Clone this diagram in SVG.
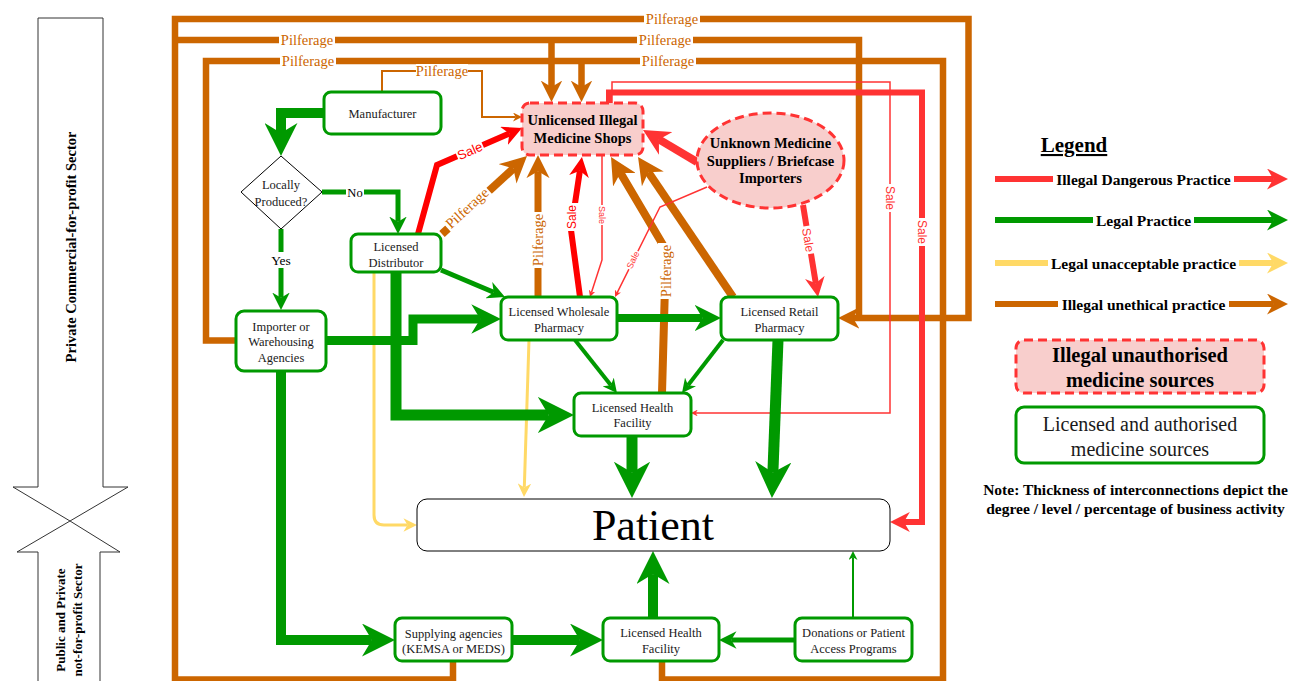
<svg xmlns="http://www.w3.org/2000/svg" width="1291" height="681" viewBox="0 0 1291 681">
<style>
.serif{font-family:"Liberation Serif","Times New Roman",serif;}
.sans{font-family:"Liberation Sans",Arial,sans-serif;}
.node{fill:#fff;stroke:#009900;stroke-width:3;}
.ill{fill:#f8cecc;stroke:#ff3333;stroke-width:3;stroke-dasharray:9 5;}
.g{fill:none;stroke:#009900;}
.o{fill:none;stroke:#cc6600;}
.r{fill:none;stroke:#ff0000;}
.r2{fill:none;stroke:#ff3333;}
.y{fill:none;stroke:#ffd966;}
.bg{fill:#fff;}
.nt{font-size:12.5px;fill:#1a1a1a;text-anchor:middle;}
.bt{font-size:14.5px;font-weight:bold;fill:#000;text-anchor:middle;}
.pil{font-size:14.5px;fill:#cc6600;text-anchor:middle;dominant-baseline:central;}
.sale{fill:#ff3333;text-anchor:middle;dominant-baseline:central;}
.lg{font-size:15.5px;font-weight:bold;fill:#000;text-anchor:middle;}
</style>
<defs>
<marker id="gL" viewBox="0 0 10 10" refX="3" refY="5" markerWidth="3.3" markerHeight="3.3" orient="auto"><path d="M0,0 L10,5 L0,10 L3,5 z" fill="#009900"/></marker>
<marker id="gM" viewBox="0 0 10 10" refX="3" refY="5" markerWidth="3.5" markerHeight="3.5" orient="auto"><path d="M0,0 L10,5 L0,10 L3,5 z" fill="#009900"/></marker>
<marker id="gS" viewBox="0 0 10 10" refX="3" refY="5" markerWidth="4.5" markerHeight="4.5" orient="auto"><path d="M0,0 L10,5 L0,10 L3,5 z" fill="#009900"/></marker>
<marker id="oL" viewBox="0 0 10 10" refX="3" refY="5" markerWidth="3.3" markerHeight="3.3" orient="auto"><path d="M0,0 L10,5 L0,10 L3,5 z" fill="#cc6600"/></marker>
<marker id="oM" viewBox="0 0 10 10" refX="3" refY="5" markerWidth="3.5" markerHeight="3.5" orient="auto"><path d="M0,0 L10,5 L0,10 L3,5 z" fill="#cc6600"/></marker>
<marker id="oS" viewBox="0 0 10 10" refX="3" refY="5" markerWidth="4.5" markerHeight="4.5" orient="auto"><path d="M0,0 L10,5 L0,10 L3,5 z" fill="#cc6600"/></marker>
<marker id="rL" viewBox="0 0 10 10" refX="3" refY="5" markerWidth="3.3" markerHeight="3.3" orient="auto"><path d="M0,0 L10,5 L0,10 L3,5 z" fill="#ff0000"/></marker>
<marker id="r2L" viewBox="0 0 10 10" refX="3" refY="5" markerWidth="3.3" markerHeight="3.3" orient="auto"><path d="M0,0 L10,5 L0,10 L3,5 z" fill="#ff3333"/></marker>
<marker id="r2M" viewBox="0 0 10 10" refX="3" refY="5" markerWidth="3.5" markerHeight="3.5" orient="auto"><path d="M0,0 L10,5 L0,10 L3,5 z" fill="#ff3333"/></marker>
<marker id="r2S" viewBox="0 0 10 10" refX="3" refY="5" markerWidth="4.5" markerHeight="4.5" orient="auto"><path d="M0,0 L10,5 L0,10 L3,5 z" fill="#ff3333"/></marker>
<marker id="yS" viewBox="0 0 10 10" refX="3" refY="5" markerWidth="4.5" markerHeight="4.5" orient="auto"><path d="M0,0 L10,5 L0,10 L3,5 z" fill="#ffd966"/></marker>
<marker id="yM" viewBox="0 0 10 10" refX="3" refY="5" markerWidth="3.5" markerHeight="3.5" orient="auto"><path d="M0,0 L10,5 L0,10 L3,5 z" fill="#ffd966"/></marker>
</defs>
<rect width="1291" height="681" fill="#fff"/>

<g id="sector-private">
<path d="M38,18 H103 V487 H128 L70,521 L13,487 H38 Z" fill="#fff" stroke="#333" stroke-width="1"/>
<text class="serif" transform="translate(76,247) rotate(-90)" font-size="14.5" font-weight="bold" text-anchor="middle">Private Commercial-for-profit Sector</text>
</g>
<g id="sector-public">
<path d="M38,690 V552 H17 L70,521 L120,552 H100 V690" fill="#fff" stroke="#333" stroke-width="1"/>
<text class="serif" transform="translate(65,620) rotate(-90)" font-size="13" font-weight="bold" text-anchor="middle">Public and Private</text>
<text class="serif" transform="translate(82,620) rotate(-90)" font-size="13" font-weight="bold" text-anchor="middle">not-for-profit Sector</text>
</g>

<g id="connectors">
<!-- orange pilferage loops -->
<path class="o" stroke-width="6.5" d="M453,661 V679.5 H175 V19 H968.5 V318 H853" marker-end="url(#oL)"/>
<path class="o" stroke-width="6.5" d="M175,40 H859 V318"/>
<path class="o" stroke-width="6.5" d="M236,340.5 H206 V61 H943 V679.5 H662 V661"/>
<path class="o" stroke-width="6.5" d="M551.5,40 V87" marker-end="url(#oL)"/>
<path class="o" stroke-width="6.5" d="M581.5,61 V87" marker-end="url(#oL)"/>
<path class="o" stroke-width="8" d="M442,234 L513.4,168.5" marker-end="url(#oL)"/>
<path class="o" stroke-width="7" d="M538,297 V171.2" marker-end="url(#oL)"/>
<path class="o" stroke-width="8" d="M662,393 L666,250 L620.4,172.9" marker-end="url(#oL)"/>
<path class="o" stroke-width="8" d="M733,297 L648.4,172.3" marker-end="url(#oL)"/>
<path class="o" stroke-width="2" d="M382,92 V71 H482 V117 H515.7" marker-end="url(#oS)"/>
<!-- red -->
<path class="r" stroke-width="6" d="M418,234 L437,165 L509.3,133.5" marker-end="url(#rL)"/>
<path class="r" stroke-width="6" d="M580,297 L571,230 L579.9,170.7" marker-end="url(#rL)"/>
<path class="r2" stroke-width="1.5" d="M602,155 V260 L591.45,292.5" marker-end="url(#r2S)"/>
<path class="r2" stroke-width="1.5" d="M707,187 L660,207 L617.1,292.8" marker-end="url(#r2S)"/>
<path class="r2" stroke-width="8" d="M697,162 L658.9,139.4" marker-end="url(#r2L)"/>
<path class="r2" stroke-width="6" d="M803,205 L815.8,283.3" marker-end="url(#r2L)"/>
<path class="r2" stroke-width="6" d="M609,103 V92.5 H922 V522 H903.9" marker-end="url(#r2L)"/>
<path class="r2" stroke-width="1.5" d="M612,103 V82 H890 V413 H695.7" marker-end="url(#r2S)"/>
<!-- yellow -->
<path class="y" stroke-width="3" d="M374,272 V515 Q374,525 384,525 H407.5" marker-end="url(#yS)"/>
<path class="y" stroke-width="3" d="M529,340 L524.3,487.5" marker-end="url(#yS)"/>
<!-- green -->
<path class="g" stroke-width="10" d="M324,113 H281 V132.9" marker-end="url(#gL)"/>
<path class="g" stroke-width="5" d="M322,192 H398 V221.75" marker-end="url(#gM)"/>
<path class="g" stroke-width="5" d="M281,229 V297.75" marker-end="url(#gM)"/>
<path class="g" stroke-width="5" d="M441,270 L493.7,292.2" marker-end="url(#gM)"/>
<path class="g" stroke-width="9" d="M326,340.5 H413 V319 H480.2" marker-end="url(#gL)"/>
<path class="g" stroke-width="11" d="M396,272 V415 H548.6" marker-end="url(#gL)"/>
<path class="g" stroke-width="8" d="M617,318 H702.5" marker-end="url(#gL)"/>
<path class="g" stroke-width="4" d="M575,340 L610.9,385.3" marker-end="url(#gM)"/>
<path class="g" stroke-width="4" d="M723,340 L688,385.2" marker-end="url(#gM)"/>
<path class="g" stroke-width="11" d="M632,436 V472.6" marker-end="url(#gL)"/>
<path class="g" stroke-width="11" d="M778,340 L772.9,472.6" marker-end="url(#gL)"/>
<path class="g" stroke-width="10" d="M281,371 V640 H371.9" marker-end="url(#gL)"/>
<path class="g" stroke-width="10" d="M512,640 H579.9" marker-end="url(#gL)"/>
<path class="g" stroke-width="10" d="M653,618 V574.1" marker-end="url(#gL)"/>
<path class="g" stroke-width="5" d="M795,640 H731.25" marker-end="url(#gM)"/>
<path class="g" stroke-width="2" d="M853,618 V557.3" marker-end="url(#gS)"/>

<!-- labels -->
<g class="serif">
<rect class="bg" x="346" y="185" width="18" height="14"/>
<text x="355" y="196.5" font-size="12.5" text-anchor="middle">No</text>
<rect class="bg" x="270" y="252" width="22" height="16"/>
<text x="281" y="265" font-size="13.5" text-anchor="middle">Yes</text>
<rect class="bg" x="416" y="64" width="52" height="14"/>
<text class="pil" x="442" y="71" font-size="13">Pilferage</text>
<rect class="bg" x="644" y="11" width="56" height="16"/>
<text class="pil" x="672" y="19">Pilferage</text>
<rect class="bg" x="279" y="32" width="56" height="16"/>
<text class="pil" x="307" y="40">Pilferage</text>
<rect class="bg" x="637" y="32" width="56" height="16"/>
<text class="pil" x="665" y="40">Pilferage</text>
<rect class="bg" x="280" y="53" width="56" height="16"/>
<text class="pil" x="308" y="61">Pilferage</text>
<rect class="bg" x="640" y="53" width="56" height="16"/>
<text class="pil" x="668" y="61">Pilferage</text>
<g transform="translate(467,208) rotate(-42.5)"><rect class="bg" x="-28" y="-8" width="56" height="16"/><text class="pil" x="0" y="0">Pilferage</text></g>
<g transform="translate(538,240) rotate(-90)"><rect class="bg" x="-28" y="-8" width="56" height="16"/><text class="pil" x="0" y="0">Pilferage</text></g>
<g transform="translate(666,271) rotate(-90)"><rect class="bg" x="-28" y="-8" width="56" height="16"/><text class="pil" x="0" y="0">Pilferage</text></g>
</g>
<g class="sans">
<g transform="translate(470,151) rotate(-23.5)"><rect class="bg" x="-14" y="-7" width="28" height="14"/><text class="sale" x="0" y="0" font-size="13" fill="#ff0000" style="fill:#ff0000">Sale</text></g>
<g transform="translate(572,217) rotate(-90)"><rect class="bg" x="-14" y="-7" width="28" height="14"/><text class="sale" x="0" y="0" font-size="12" style="fill:#ff0000">Sale</text></g>
<g transform="translate(602,215) rotate(90)"><rect class="bg" x="-10" y="-5" width="20" height="10"/><text class="sale" x="0" y="0" font-size="9">Sale</text></g>
<g transform="translate(633,260) rotate(-63.4)"><rect class="bg" x="-10" y="-5" width="20" height="10"/><text class="sale" x="0" y="0" font-size="9">Sale</text></g>
<g transform="translate(808,240) rotate(80.7)"><rect class="bg" x="-14" y="-7" width="28" height="14"/><text class="sale" x="0" y="0" font-size="12">Sale</text></g>
<g transform="translate(922,232) rotate(90)"><rect class="bg" x="-14" y="-7" width="28" height="14"/><text class="sale" x="0" y="0" font-size="12">Sale</text></g>
<g transform="translate(890,198) rotate(90)"><rect class="bg" x="-14" y="-7" width="28" height="14"/><text class="sale" x="0" y="0" font-size="12">Sale</text></g>
</g>
</g>

<g id="manufacturer"><rect class="node" x="324" y="92" width="117" height="42" rx="7"/><text class="serif nt" x="382.5" y="117.5">Manufacturer</text></g>
<g id="locally-produced"><path d="M281,156 L322,192 L281,229 L241,192 Z" fill="#fff" stroke="#000" stroke-width="1"/><text class="serif nt" x="281" y="188.5">Locally</text><text class="serif nt" x="281" y="205.5">Produced?</text></g>
<g id="licensed-distributor"><rect class="node" x="351" y="234" width="90" height="38" rx="7"/><text class="serif nt" x="396" y="250.5">Licensed</text><text class="serif nt" x="396" y="266.5">Distributor</text></g>
<g id="importer"><rect class="node" x="236" y="311" width="90" height="60" rx="8"/><text class="serif nt" x="281" y="330.5">Importer or</text><text class="serif nt" x="281" y="345.5">Warehousing</text><text class="serif nt" x="281" y="361.5">Agencies</text></g>
<g id="wholesale"><rect class="node" x="501" y="297" width="116" height="43" rx="7"/><text class="serif nt" x="559" y="315.5">Licensed Wholesale</text><text class="serif nt" x="559" y="331.5">Pharmacy</text></g>
<g id="retail"><rect class="node" x="721" y="297" width="117" height="43" rx="7"/><text class="serif nt" x="779.5" y="315.5">Licensed Retail</text><text class="serif nt" x="779.5" y="331.5">Pharmacy</text></g>
<g id="health-facility-private"><rect class="node" x="574" y="393" width="117" height="43" rx="7"/><text class="serif nt" x="632.5" y="411.5">Licensed Health</text><text class="serif nt" x="632.5" y="426.5">Facility</text></g>
<g id="patient"><rect x="417" y="499" width="473" height="52" rx="10" fill="#fff" stroke="#000" stroke-width="1"/><text class="serif" x="653" y="540" font-size="44" text-anchor="middle">Patient</text></g>
<g id="supplying-agencies"><rect class="node" x="395" y="618" width="117" height="43" rx="7"/><text class="serif nt" x="453.5" y="637.5">Supplying agencies</text><text class="serif nt" x="453.5" y="652.5">(KEMSA or MEDS)</text></g>
<g id="health-facility-public"><rect class="node" x="603" y="618" width="116" height="43" rx="7"/><text class="serif nt" x="661" y="636.5">Licensed Health</text><text class="serif nt" x="661" y="652.5">Facility</text></g>
<g id="donations"><rect class="node" x="795" y="618" width="117" height="43" rx="7"/><text class="serif nt" x="853.5" y="636.5">Donations or Patient</text><text class="serif nt" x="853.5" y="652.5">Access Programs</text></g>
<g id="unlicensed-shops"><rect class="ill" x="522" y="103" width="121" height="52" rx="8"/><text class="serif bt" x="582.5" y="125">Unlicensed Illegal</text><text class="serif bt" x="582.5" y="143">Medicine Shops</text></g>
<g id="unknown-suppliers"><ellipse class="ill" cx="770.5" cy="160.5" rx="73.5" ry="47.5"/><text class="serif bt" x="770.5" y="148">Unknown Medicine</text><text class="serif bt" x="770.5" y="166">Suppliers / Briefcase</text><text class="serif bt" x="770.5" y="183">Importers</text></g>

<g id="legend" class="serif">
<text x="1074" y="152" font-size="21" font-weight="bold" text-anchor="middle" text-decoration="underline">Legend</text>
<path class="r2" stroke-width="6" d="M995,179 H1273.3" marker-end="url(#r2M)"/>
<rect class="bg" x="1053" y="170" width="181" height="18"/>
<text class="lg" x="1143.5" y="184.5">Illegal Dangerous Practice</text>
<path class="g" stroke-width="6" d="M995,220 H1273.3" marker-end="url(#gM)"/>
<rect class="bg" x="1093" y="211" width="101" height="18"/>
<text class="lg" x="1143.5" y="225.5">Legal Practice</text>
<path class="y" stroke-width="6" d="M995,263 H1273.3" marker-end="url(#yM)"/>
<rect class="bg" x="1048" y="254" width="191" height="18"/>
<text class="lg" x="1143.5" y="268.5">Legal unacceptable practice</text>
<path class="o" stroke-width="6" d="M995,304 H1273.3" marker-end="url(#oM)"/>
<rect class="bg" x="1058" y="295" width="171" height="18"/>
<text class="lg" x="1143.5" y="309.5">Illegal unethical practice</text>
<rect class="ill" x="1016" y="340" width="248" height="53" rx="8"/>
<text x="1140" y="362" font-size="20.5" font-weight="bold" text-anchor="middle">Illegal unauthorised</text>
<text x="1140" y="387" font-size="20.5" font-weight="bold" text-anchor="middle">medicine sources</text>
<rect class="node" x="1016" y="407" width="248" height="56" rx="8"/>
<text x="1140" y="431" font-size="20" text-anchor="middle" fill="#1a1a1a">Licensed and authorised</text>
<text x="1140" y="456" font-size="20" text-anchor="middle" fill="#1a1a1a">medicine sources</text>
<text x="1135.5" y="495" font-size="15.5" font-weight="bold" text-anchor="middle">Note: Thickness of interconnections depict the</text>
<text x="1135.5" y="514" font-size="15.5" font-weight="bold" text-anchor="middle">degree / level / percentage of business activity</text>
</g>
</svg>
